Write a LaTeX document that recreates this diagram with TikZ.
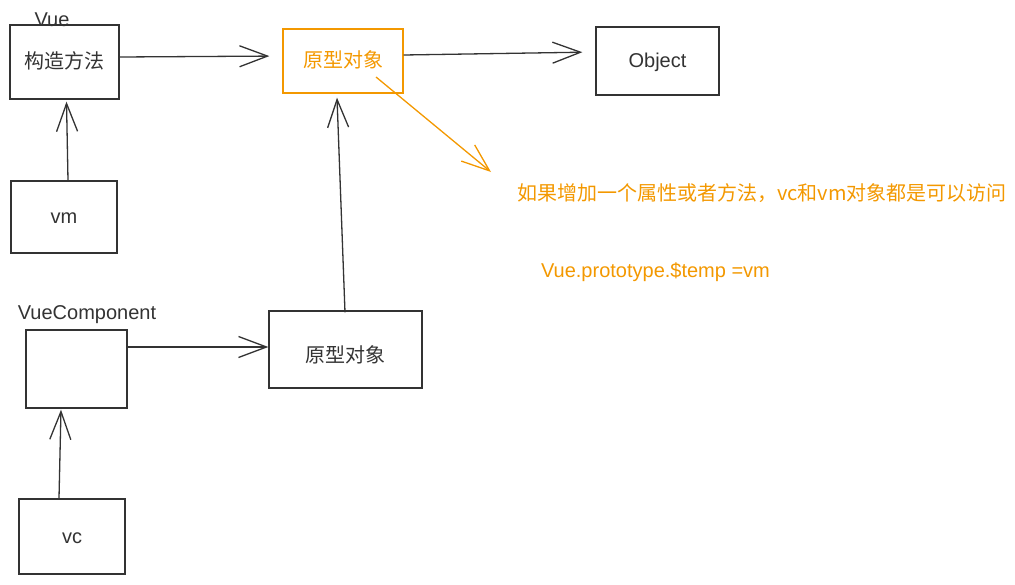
\documentclass[tikz,border=0pt]{standalone}
\usepackage{fontspec}
\setmainfont{Liberation Sans}
\newfontfamily\cjk{Noto Sans CJK SC}
\usetikzlibrary{arrows.meta}
\definecolor{protoorange}{RGB}{243,152,0}
\definecolor{linegray}{RGB}{51,51,51}
\tikzset{
  box/.style={draw=linegray, line width=1.3pt, text=linegray, inner sep=0pt, text height=15pt, text depth=2pt},
  protobox/.style={draw=protoorange, line width=1.3pt, text=protoorange, inner sep=0pt, text height=15pt, text depth=2pt},
  conn/.style={draw=linegray, line width=1.3pt, -{Straight Barb[length=28pt,width=21pt]}},
  noteconn/.style={draw=protoorange, line width=1.3pt, -{Straight Barb[length=28pt,width=21pt]}},
}

\begin{document}
\begin{tikzpicture}[x=1pt,y=-1pt,font=\fontsize{20}{24}\selectfont]
\useasboundingbox (0,0) rectangle (1015,584);
\node[box, minimum width=109pt, minimum height=74pt] (vue) at (64.5,62) {\cjk 构造方法};
\node[text=linegray] (vuelbl) at (52,20) {Vue};
\node[box, minimum width=106pt, minimum height=72pt] (vm) at (64,217) {vm};
\node[protobox, minimum width=120pt, minimum height=64pt] (protoA) at (343,61) {\cjk 原型对象};
\node[box, minimum width=123pt, minimum height=68pt] (obj) at (657.5,61) {Object};
\node[box, minimum width=101pt, minimum height=78pt] (comp) at (76.5,369) {};
\node[text=linegray] (complbl) at (87,315) {VueComponent};
\node[box, minimum width=153pt, minimum height=77pt, text height=28pt] (protoB) at (345.5,349.5) {\cjk 原型对象};
\node[box, minimum width=106pt, minimum height=75pt] (vc) at (72,536.5) {vc};
\node[text=protoorange] (note) at (762,193) {\cjk 如果增加一个属性或者方法，vc和vm对象都是可以访问};
\node[text=protoorange] (code) at (655.5,272) {Vue.prototype.\$temp =vm};
\coordinate (notestart) at (376,77);
\coordinate (notetip) at (491,172);

\draw[conn, shorten >=13pt] ([yshift=5pt]vue.east) -- ([yshift=5pt]protoA.west);
\draw[conn] ([xshift=4pt]vm.north) -- ([xshift=2pt,yshift=-2pt]vue.south);
\draw[conn, shorten >=13pt] ([yshift=6pt]protoA.east) -- ([yshift=9pt]obj.west);
\draw[conn] ([yshift=22pt]comp.east) -- ([yshift=2.5pt]protoB.west);
\draw[conn] ([xshift=-13pt]vc.north) -- ([xshift=-15.5pt,yshift=-1pt]comp.south);
\draw[conn] ([xshift=-0.5pt,yshift=-2pt]protoB.north) -- ([xshift=-6pt,yshift=-4pt]protoA.south);
\draw[noteconn] (notestart) -- (notetip);
\end{tikzpicture}
\end{document}
